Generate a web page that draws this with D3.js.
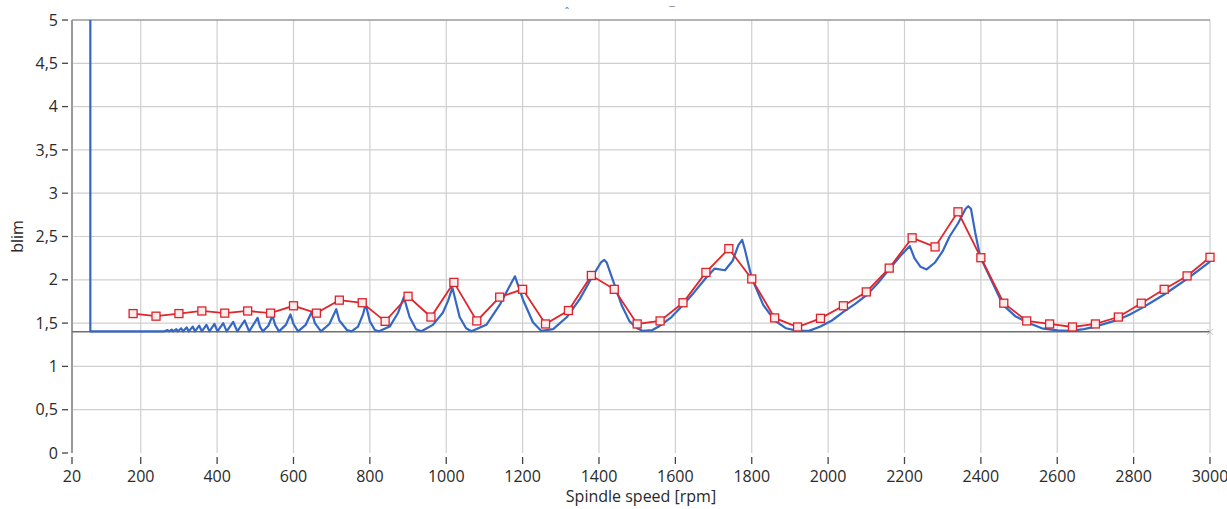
<!DOCTYPE html>
<html>
<head>
<meta charset="utf-8">
<script src="https://cdn.jsdelivr.net/npm/d3@7"></script>
<style>
  body { margin: 0; background: #fff; }
  svg { display: block; font-family: "Open Sans", "Noto Sans", sans-serif; }
  .tick-label { font-size: 16px; fill: #2a2a2a; }
  .axis-title { font-size: 16px; fill: #2a2a2a; }
</style>
</head>
<body>
<div id="chart"></div>
<script>
// x ticks (rpm) and y ticks (blim)
var xTicks = [20, 200, 400, 600, 800, 1000, 1200, 1400, 1600, 1800, 2000, 2200, 2400, 2600, 2800, 3000];
var yTicks = [0, 0.5, 1, 1.5, 2, 2.5, 3, 3.5, 4, 4.5, 5];

// limit line
var blimMin = 1.4;

// red series: computed points, every 60 rpm
var redRpm = [180, 240, 300, 360, 420, 480, 540, 600, 660, 720, 780, 840, 900, 960, 1020, 1080,
  1140, 1200, 1260, 1320, 1380, 1440, 1500, 1560, 1620, 1680, 1740, 1800, 1860, 1920, 1980, 2040,
  2100, 2160, 2220, 2280, 2340, 2400, 2460, 2520, 2580, 2640, 2700, 2760, 2820, 2880, 2940, 3000];
var redBlim = [1.61, 1.58, 1.61, 1.64, 1.615, 1.64, 1.615, 1.70, 1.615, 1.765, 1.735, 1.52, 1.81, 1.57, 1.97, 1.525,
  1.80, 1.89, 1.49, 1.645, 2.05, 1.89, 1.49, 1.525, 1.735, 2.085, 2.36, 2.01, 1.56, 1.455, 1.555, 1.70,
  1.86, 2.135, 2.485, 2.38, 2.785, 2.255, 1.73, 1.525, 1.49, 1.455, 1.49, 1.57, 1.73, 1.89, 2.045, 2.26];

// blue series: stability lobes
var blueRpm = [68, 68, 180, 240, 262,
  270, 274, 281, 285, 293, 297, 306, 311, 320, 326, 336, 342, 353, 360, 372, 380,
  393, 401, 416, 425, 442, 453, 472, 484, 506, 512, 520, 534, 545, 552, 562, 580,
  592, 600, 612, 632, 648, 656, 672, 694,
  712, 720, 740, 752, 769, 782, 789, 800, 813, 824, 852, 874, 889, 904, 921, 935, 965, 991, 1005,
  1016, 1035, 1052, 1066, 1105, 1140, 1170, 1180, 1201, 1227, 1249, 1280, 1316, 1350, 1379, 1405,
  1414, 1420, 1440, 1460, 1480, 1500, 1515, 1540, 1560, 1590, 1620, 1650, 1680, 1703, 1730, 1750, 1765,
  1775, 1782, 1800, 1830, 1860, 1890, 1920, 1950, 1980, 2010, 2040, 2070, 2100, 2130, 2160, 2190,
  2214, 2226, 2242, 2258, 2280, 2300, 2318, 2340, 2360, 2367, 2374, 2385, 2398, 2430, 2458, 2490,
  2520, 2560, 2600, 2633, 2670, 2700, 2730, 2760, 2790, 2820, 2850, 2880, 2910, 2940, 2970, 3000];
var blueBlim = [5, 1.405, 1.405, 1.405, 1.405,
  1.42, 1.405, 1.425, 1.405, 1.43, 1.405, 1.44, 1.405, 1.45, 1.405, 1.46, 1.405, 1.47, 1.405, 1.48, 1.405,
  1.49, 1.405, 1.50, 1.405, 1.515, 1.405, 1.53, 1.405, 1.56, 1.46, 1.405, 1.47, 1.585, 1.48, 1.405, 1.48,
  1.60, 1.49, 1.405, 1.48, 1.63, 1.50, 1.405, 1.49,
  1.66, 1.53, 1.42, 1.405, 1.46, 1.60, 1.72, 1.52, 1.42, 1.405, 1.46, 1.62, 1.80, 1.57, 1.43, 1.405, 1.48, 1.62, 1.76,
  1.91, 1.57, 1.44, 1.405, 1.48, 1.71, 1.96, 2.04, 1.77, 1.51, 1.41, 1.43, 1.57, 1.78, 2.01, 2.20,
  2.23, 2.20, 1.95, 1.70, 1.52, 1.44, 1.41, 1.42, 1.47, 1.57, 1.71, 1.86, 2.02, 2.13, 2.11, 2.22, 2.40,
  2.46, 2.35, 2.02, 1.71, 1.53, 1.44, 1.41, 1.41, 1.46, 1.53, 1.63, 1.72, 1.82, 1.96, 2.12, 2.28,
  2.39, 2.25, 2.15, 2.12, 2.20, 2.33, 2.50, 2.65, 2.82, 2.85, 2.82, 2.55, 2.27, 1.97, 1.71, 1.58,
  1.51, 1.44, 1.415, 1.41, 1.43, 1.46, 1.50, 1.54, 1.60, 1.67, 1.75, 1.83, 1.92, 2.01, 2.11, 2.21];

var width = 1227, height = 509;
var margin = {top: 20, right: 17, bottom: 56, left: 72};
var fmt = function(v) { return String(v).replace('.', ','); };

var svg = d3.select('#chart').append('svg')
    .attr('width', width)
    .attr('height', height);

var x = d3.scaleLinear().domain([20, 3000]).range([margin.left, width - margin.right]);
var y = d3.scaleLinear().domain([0, 5]).range([height - margin.bottom, margin.top]);

// grid
svg.append('g').attr('class', 'grid-x')
  .selectAll('line').data(xTicks.slice(1)).enter().append('line')
    .attr('x1', function(d) { return x(d); }).attr('x2', function(d) { return x(d); })
    .attr('y1', y(0)).attr('y2', y(5))
    .attr('stroke', '#cfcfcf').attr('stroke-width', 1.2);

svg.append('g').attr('class', 'grid-y')
  .selectAll('line').data(yTicks.slice(1)).enter().append('line')
    .attr('x1', x(20)).attr('x2', x(3000))
    .attr('y1', function(d) { return y(d); }).attr('y2', function(d) { return y(d); })
    .attr('stroke', function(d) { return d === 5 ? '#9a9a9a' : '#cfcfcf'; })
    .attr('stroke-width', function(d) { return d === 5 ? 1.5 : 1.2; });

// y axis
var yAxis = svg.append('g').attr('class', 'y-axis');
yAxis.append('line')
    .attr('x1', x(20)).attr('x2', x(20))
    .attr('y1', y(5)).attr('y2', y(0))
    .attr('stroke', '#9a9a9a').attr('stroke-width', 2);
var yt = yAxis.selectAll('.ytick').data(yTicks).enter().append('g')
    .attr('class', 'ytick')
    .attr('transform', function(d) { return 'translate(0,' + y(d) + ')'; });
yt.append('line').attr('x1', 62).attr('x2', 68).attr('stroke', '#444').attr('stroke-width', 1.3);
yt.append('text').attr('class', 'tick-label')
    .attr('x', 58).attr('dy', '0.35em').attr('text-anchor', 'end')
    .text(function(d) { return fmt(d); });

// x axis
var xt = svg.append('g').attr('class', 'x-axis')
  .selectAll('.xtick').data(xTicks).enter().append('g')
    .attr('class', 'xtick')
    .attr('transform', function(d) { return 'translate(' + x(d) + ',0)'; });
xt.append('line').attr('y1', 457).attr('y2', 464).attr('stroke', '#444').attr('stroke-width', 1.3);
xt.append('text').attr('class', 'tick-label')
    .attr('y', 482).attr('text-anchor', 'middle')
    .text(function(d) { return d; });

// titles
svg.append('text').attr('class', 'axis-title')
    .attr('transform', 'translate(23,' + ((y(0) + y(5)) / 2) + ') rotate(-90)')
    .attr('text-anchor', 'middle')
    .text('blim');
svg.append('text').attr('class', 'axis-title')
    .attr('x', (x(20) + x(3000)) / 2).attr('y', 502)
    .attr('text-anchor', 'middle')
    .text('Spindle speed [rpm]');

// cut-off title remnants
svg.append('text').attr('x', 567).attr('y', 16).attr('text-anchor', 'middle')
    .attr('font-size', 11).attr('fill', '#777').text('ˆ');
svg.append('text').attr('x', 672).attr('y', 15).attr('text-anchor', 'middle')
    .attr('font-size', 11).attr('fill', '#777').text('‾');

// limit line
svg.append('line')
    .attr('x1', x(20)).attr('x2', x(3000))
    .attr('y1', y(blimMin)).attr('y2', y(blimMin))
    .attr('stroke', '#6f6f6f').attr('stroke-width', 1.3);
svg.append('path')
    .attr('d', 'M' + (x(3000) - 3) + ',' + (y(blimMin) - 3) + 'l6,6M' + (x(3000) - 3) + ',' + (y(blimMin) + 3) + 'l6,-6')
    .attr('stroke', '#bbb').attr('stroke-width', 1);

// blue lobes
var blue = blueRpm.map(function(r, i) { return [r, blueBlim[i]]; });
var red = redRpm.map(function(r, i) { return [r, redBlim[i]]; });

var line = d3.line()
    .x(function(d) { return x(d[0]); })
    .y(function(d) { return y(d[1]); });

svg.append('path').datum(blue)
    .attr('fill', 'none')
    .attr('stroke', '#3567c4')
    .attr('stroke-width', 2.2)
    .attr('stroke-linejoin', 'round')
    .attr('d', line);

// red series + markers
svg.append('path').datum(red)
    .attr('fill', 'none')
    .attr('stroke', '#e0262c')
    .attr('stroke-width', 1.8)
    .attr('d', line);

svg.append('g').selectAll('rect').data(red).enter().append('rect')
    .attr('x', function(d) { return x(d[0]) - 4; })
    .attr('y', function(d) { return y(d[1]) - 4; })
    .attr('width', 8).attr('height', 8)
    .attr('fill', '#fdecec')
    .attr('stroke', '#d9232b')
    .attr('stroke-width', 1.3);
</script>
</body>
</html>
